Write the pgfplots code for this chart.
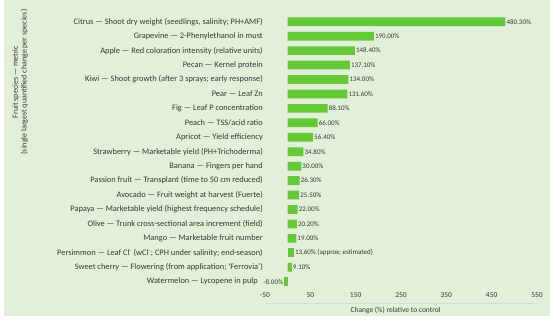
\documentclass[border=0pt]{standalone}
\usepackage{pgfplots}
\pgfplotsset{compat=1.18}
\usepackage{fontspec}
\setmainfont{Carlito}
\definecolor{bg}{RGB}{226,240,217}
\definecolor{barc}{RGB}{101,200,55}
\definecolor{txt}{RGB}{55,55,55}
\begin{document}
\begin{tikzpicture}[x=1bp,y=1bp]
\path[fill=white] (0,0) rectangle (550,-322);
\fill[bg] (4,0) rectangle (550,-316);
\begin{axis}[
  at={(265bp,-288.9bp)}, anchor=south west,
  scale only axis, width=272bp, height=274.4bp,
  xbar, bar width=8.7bp, bar shift=0pt,
  xmin=-50, xmax=550, ymin=-0.5, ymax=18.5, y dir=reverse,
  enlargelimits=false,
  axis line style={draw=none},
  major tick length=0pt,
  xtick={-50,50,...,550},
  ytick={0,...,18},
  yticklabels={
    {Citrus — Shoot dry weight (seedlings, salinity; PH+AMF)},
    {Grapevine — 2-Phenylethanol in must},
    {Apple — Red coloration intensity (relative units)},
    {Pecan — Kernel protein},
    {Kiwi — Shoot growth (after 3 sprays; early response)},
    {Pear — Leaf Zn},
    {Fig — Leaf P concentration},
    {Peach — TSS/acid ratio},
    {Apricot — Yield efficiency},
    {Strawberry — Marketable yield (PH+Trichoderma)},
    {Banana — Fingers per hand},
    {Passion fruit — Transplant (time to 50 cm reduced)},
    {Avocado — Fruit weight at harvest (Fuerte)},
    {Papaya — Marketable yield (highest frequency schedule)},
    {Olive — Trunk cross-sectional area increment (field)},
    {Mango — Marketable fruit number},
    {Persimmon — Leaf Cl\textsuperscript{-} (wCl\textsuperscript{-}; CPH under salinity; end-season)},
    {Sweet cherry — Flowering (from application; ‘Ferrovia’)},
    {Watermelon — Lycopene in pulp\rule{5bp}{0pt}}},
  /pgf/number format/assume math mode=true,
  yticklabel style={font=\fontsize{8.4}{9}\selectfont, text=txt, inner sep=2bp},
  xticklabel style={font=\fontsize{7.5}{8}\selectfont, text=txt, yshift=-0.5bp},
  xlabel={Change (\%) relative to control},
  xlabel style={font=\fontsize{7.5}{8}\selectfont, text=txt, at={(axis description cs:0.48,-0.077)}, anchor=center},
  ylabel={Fruit species — metric\\(single largest quantified change per species)},
  ylabel style={font=\fontsize{8}{9}\selectfont, text=txt, align=center, at={(axis description cs:-0.9,0.754)}, anchor=center, rotate=0},
  nodes near coords style={font=\fontsize{7}{8}\selectfont, text=txt, inner sep=1bp, anchor=west},
  clip=false,
]
\addplot[fill=barc, draw=none, point meta=x,
  nodes near coords={\pgfmathprintnumber[fixed,fixed zerofill,precision=2,assume math mode=true]{\pgfplotspointmeta}\%}] coordinates {
  (480.3,0)
  (190.0,1)
  (148.4,2)
  (137.1,3)
  (134.0,4)
  (131.6,5)
  (88.1,6)
  (66.0,7)
  (56.4,8)
  (34.8,9)
  (30.0,10)
  (26.3,11)
  (25.5,12)
  (22.0,13)
  (20.2,14)
  (19.0,15)
  (9.1,17)
};
\addplot[fill=barc, draw=none, nodes near coords={13,60\% (approx; estimated)}] coordinates {
  (13.6,16)
};
\addplot[fill=barc, draw=none, nodes near coords={-8.00\%}, nodes near coords style={anchor=east, inner sep=0.8bp}] coordinates {
  (-8.0,18)
};
\draw[black!15, line width=0.5bp] (axis description cs:0,-0.051) -- (axis description cs:1,-0.051);
\end{axis}
\end{tikzpicture}
\end{document}
